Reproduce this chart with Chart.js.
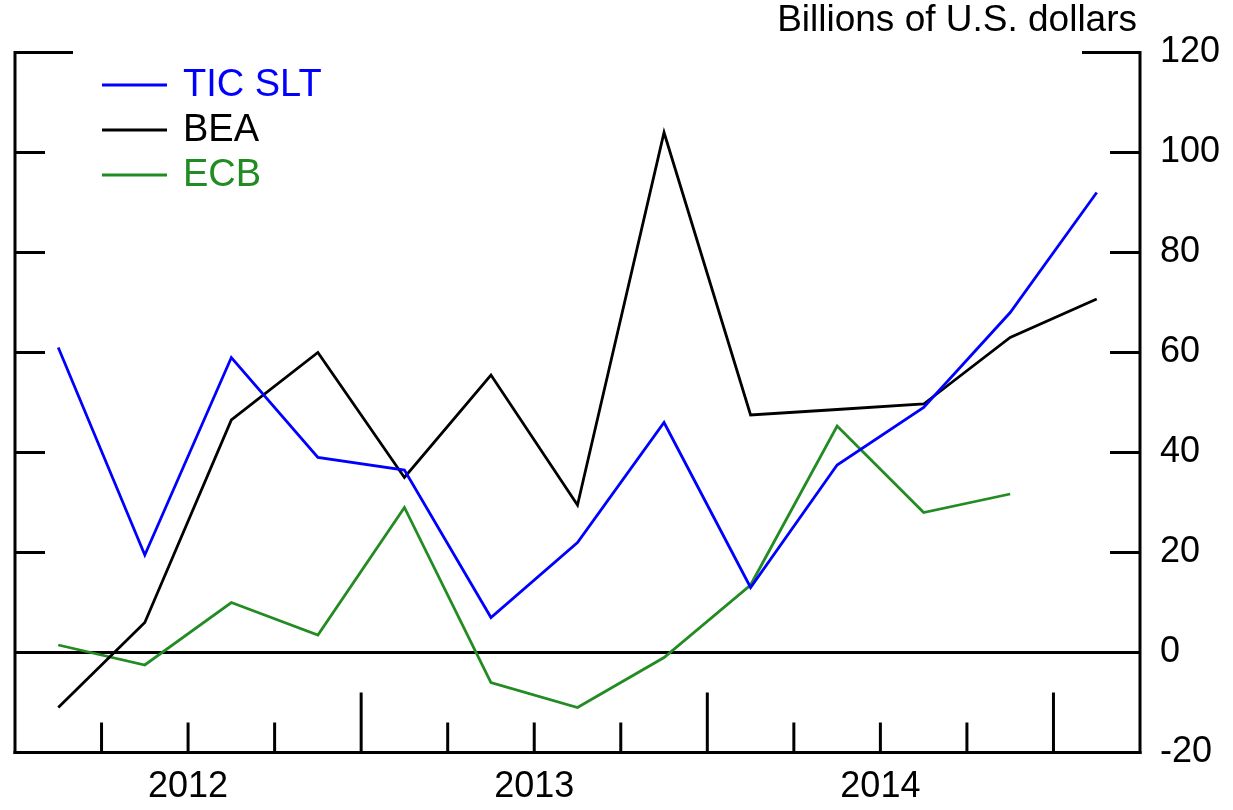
<!DOCTYPE html>
<html>
<head>
<meta charset="utf-8">
<script src="https://cdn.jsdelivr.net/npm/chart.js@4.4.0/dist/chart.umd.min.js"></script>
<style>
  html, body { margin: 0; padding: 0; background: #fff; }
  #wrap { width: 1233px; height: 810px; position: relative; }
</style>
</head>
<body>
<div id="wrap"><canvas id="c"></canvas></div>
<script>
// ---- data ----
const quarters = ['2012Q1','2012Q2','2012Q3','2012Q4','2013Q1','2013Q2','2013Q3','2013Q4','2014Q1','2014Q2','2014Q3','2014Q4','2015Q1'];
const yearLabels = ['2012','2013','2014'];
const ticSlt = [61, 19.5, 59, 39, 36.5, 7, 22, 46, 13, 37.5, 49, 68, 92];
const bea    = [-11, 6, 46.5, 60, 35, 55.5, 29.5, 104, 47.5, 48.6, 49.7, 63, 70.7];
const ecb    = [1.5, -2.5, 10, 3.5, 29, -6, -11, -1, 13.5, 45.3, 28, 31.7, null];
const yTicks = [-20, 0, 20, 40, 60, 80, 100, 120];
const unitLabel = 'Billions of U.S. dollars';

const FONT = '"Liberation Sans", Arial, Helvetica, sans-serif';

const framePlugin = {
  id: 'frame',
  beforeDatasetsDraw(chart) {
    const ctx = chart.ctx;
    const { left, right, top, bottom } = chart.chartArea;
    const xs = chart.scales.x, ys = chart.scales.y;
    ctx.save();
    ctx.strokeStyle = '#000';
    ctx.lineWidth = 3;
    ctx.lineCap = 'butt';
    const seg = (x1, y1, x2, y2) => { ctx.beginPath(); ctx.moveTo(x1, y1); ctx.lineTo(x2, y2); ctx.stroke(); };
    seg(left, top - 1.5, left, bottom + 1.5);
    seg(right, top - 1.5, right, bottom + 1.5);
    seg(left - 1.5, bottom, right + 1.5, bottom);
    const y0 = ys.getPixelForValue(0);
    seg(left, y0, right, y0);
    yTicks.forEach(v => {
      const py = ys.getPixelForValue(v);
      const len = v === ys.max ? 58 : 30;
      seg(left, py, left + len, py);
      seg(right, py, right - len, py);
    });
    for (let i = 1; i < quarters.length; i++) {
      const px = (xs.getPixelForValue(i - 1) + xs.getPixelForValue(i)) / 2;
      const len = (i % 4 === 0) ? 60 : 30;
      seg(px, bottom, px, bottom - len);
    }
    ctx.restore();
  },
  afterDraw(chart) {
    const ctx = chart.ctx;
    const { right, bottom } = chart.chartArea;
    const xs = chart.scales.x;
    ctx.save();
    ctx.fillStyle = '#000';
    ctx.font = '36px ' + FONT;
    ctx.textAlign = 'center';
    ctx.textBaseline = 'middle';
    yearLabels.forEach((lab, k) => {
      const i = k * 4 + 2;
      const px = (xs.getPixelForValue(i - 1) + xs.getPixelForValue(i)) / 2;
      ctx.fillText(lab, px, bottom + 35);
    });
    ctx.font = '37px ' + FONT;
    ctx.textAlign = 'right';
    ctx.fillText(unitLabel, right - 3, 21);
    ctx.font = '38px ' + FONT;
    ctx.textAlign = 'left';
    const ys0 = 85, dy = 45;
    chart.data.datasets.forEach((ds, k) => {
      const yy = ys0 + k * dy;
      ctx.strokeStyle = ds.borderColor;
      ctx.lineWidth = 3;
      ctx.beginPath(); ctx.moveTo(102, yy); ctx.lineTo(167, yy); ctx.stroke();
      ctx.fillStyle = ds.borderColor;
      ctx.fillText(ds.label, 183, yy + 1);
    });
    ctx.restore();
  }
};

new Chart(document.getElementById('c'), {
  type: 'line',
  data: {
    labels: quarters,
    datasets: [
      { label: 'TIC SLT', data: ticSlt, borderColor: '#0000ff', borderWidth: 2.8, pointRadius: 0, tension: 0, fill: false },
      { label: 'BEA', data: bea, borderColor: '#000000', borderWidth: 2.8, pointRadius: 0, tension: 0, fill: false },
      { label: 'ECB', data: ecb, borderColor: '#228b22', borderWidth: 2.8, pointRadius: 0, tension: 0, fill: false, spanGaps: false }
    ]
  },
  options: {
    responsive: true,
    maintainAspectRatio: false,
    animation: false,
    layout: { padding: { left: 15, top: 52.5, right: 0, bottom: 0 } },
    plugins: { legend: { display: false }, tooltip: { enabled: false }, title: { display: false } },
    scales: {
      x: {
        type: 'category',
        offset: true,
        grid: { display: false, drawTicks: false },
        border: { display: false },
        ticks: { display: false },
        afterFit(s) { s.height = 57.5; }
      },
      y: {
        type: 'linear',
        position: 'right',
        min: -20,
        max: 120,
        grid: { display: false, drawTicks: false },
        border: { display: false },
        ticks: {
          stepSize: 20,
          padding: 20,
          color: '#000',
          font: { size: 36, family: FONT }
        },
        afterFit(s) { s.width = 93; }
      }
    }
  },
  plugins: [framePlugin]
});
</script>
</body>
</html>
